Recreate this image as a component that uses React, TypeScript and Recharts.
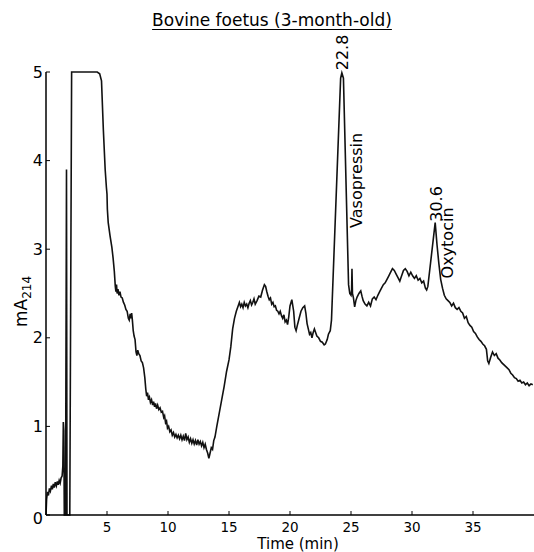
import { LineChart, Line, XAxis, YAxis, ReferenceDot, Label } from 'recharts';

// chromatogram trace: [time (min), mA214]
const trace: [number, number][] = [
  [0, 0], [0.05, 0.18], [0.12, 0.26], [0.2, 0.22], [0.28, 0.3], [0.36, 0.27], [0.45, 0.33],
  [0.52, 0.29], [0.6, 0.35], [0.68, 0.31], [0.76, 0.37], [0.85, 0.33], [0.93, 0.38], [1.0, 0.34],
  [1.08, 0.39], [1.16, 0.36], [1.24, 0.42], [1.32, 0.44], [1.38, 0.55], [1.42, 1.05], [1.46, 0.95],
  [1.5, 0], [1.6, 0], [1.68, 3.9], [1.72, 0], [1.95, 0], [2.1, 5],
  [4.2, 5], [4.4, 4.98], [4.55, 4.9], [4.7, 4.35], [4.85, 3.9], [4.95, 3.7], [5.0, 3.62],
  [5.03, 3.45], [5.1, 3.3], [5.25, 3.15], [5.4, 3.02], [5.5, 2.9], [5.6, 2.75], [5.68, 2.58],
  [5.73, 2.52], [5.78, 2.6], [5.83, 2.5], [5.9, 2.55], [5.98, 2.48], [6.06, 2.52], [6.15, 2.46],
  [6.25, 2.45], [6.35, 2.4], [6.45, 2.37], [6.55, 2.32], [6.65, 2.3], [6.75, 2.22], [6.82, 2.2],
  [6.9, 2.27], [6.96, 2.22], [7.02, 2.28], [7.08, 2.2], [7.15, 2.08], [7.22, 2.02], [7.3, 1.98],
  [7.38, 1.84], [7.45, 1.8], [7.52, 1.86], [7.6, 1.82], [7.7, 1.8], [7.8, 1.74], [7.9, 1.72],
  [8.0, 1.66], [8.1, 1.55], [8.18, 1.42], [8.25, 1.34], [8.32, 1.38], [8.4, 1.3], [8.48, 1.33],
  [8.56, 1.27], [8.65, 1.3], [8.74, 1.24], [8.82, 1.28], [8.9, 1.22], [8.98, 1.26], [9.06, 1.2],
  [9.15, 1.24], [9.25, 1.19], [9.35, 1.21], [9.45, 1.16], [9.55, 1.17], [9.65, 1.1], [9.72, 1.12],
  [9.8, 1.04], [9.88, 1.06], [9.96, 0.98], [10.05, 1.0], [10.15, 0.94], [10.25, 0.96], [10.35, 0.9],
  [10.45, 0.93], [10.55, 0.88], [10.65, 0.91], [10.75, 0.87], [10.85, 0.9], [10.95, 0.86],
  [11.05, 0.9], [11.15, 0.85], [11.25, 0.89], [11.35, 0.84], [11.45, 0.92], [11.55, 0.85],
  [11.65, 0.88], [11.75, 0.82], [11.85, 0.86], [11.95, 0.81], [12.05, 0.85], [12.15, 0.8],
  [12.25, 0.84], [12.35, 0.79], [12.45, 0.85], [12.55, 0.8], [12.65, 0.83], [12.75, 0.78],
  [12.85, 0.82], [12.95, 0.76], [13.05, 0.8], [13.15, 0.74], [13.25, 0.7], [13.35, 0.64],
  [13.45, 0.7], [13.55, 0.76], [13.65, 0.74], [13.75, 0.84], [13.85, 0.88], [14.0, 1.0],
  [14.2, 1.15], [14.4, 1.3], [14.6, 1.45], [14.8, 1.62], [15.0, 1.75], [15.15, 1.9], [15.3, 2.1],
  [15.45, 2.22], [15.6, 2.3], [15.75, 2.36], [15.85, 2.4], [15.95, 2.35], [16.05, 2.38],
  [16.15, 2.34], [16.25, 2.4], [16.35, 2.36], [16.45, 2.38], [16.55, 2.34], [16.65, 2.39],
  [16.75, 2.42], [16.85, 2.37], [16.95, 2.4], [17.05, 2.44], [17.15, 2.38], [17.3, 2.42],
  [17.45, 2.47], [17.6, 2.46], [17.75, 2.54], [17.9, 2.6], [18.0, 2.58], [18.1, 2.52],
  [18.2, 2.47], [18.3, 2.43], [18.4, 2.45], [18.5, 2.38], [18.6, 2.4], [18.7, 2.35], [18.8, 2.36],
  [18.9, 2.31], [19.0, 2.3], [19.1, 2.27], [19.2, 2.3], [19.3, 2.25], [19.4, 2.22], [19.5, 2.26],
  [19.6, 2.18], [19.7, 2.2], [19.8, 2.15], [19.9, 2.24], [20.0, 2.36], [20.15, 2.43],
  [20.3, 2.3], [20.4, 2.12], [20.5, 2.08], [20.6, 2.14], [20.75, 2.22], [20.9, 2.3], [21.05, 2.34],
  [21.2, 2.36], [21.3, 2.28], [21.4, 2.16], [21.5, 2.1], [21.6, 2.04], [21.7, 2.06], [21.8, 2.0],
  [21.9, 2.06], [22.0, 2.1], [22.1, 2.06], [22.2, 2.02], [22.35, 2.0], [22.5, 1.96],
  [22.65, 1.95], [22.8, 1.92], [22.9, 1.93], [23.05, 1.98], [23.15, 2.04], [23.3, 2.08],
  [23.4, 2.2], [24.15, 4.93], [24.25, 4.99], [24.38, 4.93], [24.8, 2.6], [24.9, 2.5],
  [25.0, 2.48], [25.05, 2.54], [25.08, 2.78], [25.12, 2.5], [25.2, 2.45], [25.3, 2.35],
  [25.4, 2.42], [25.5, 2.46], [25.65, 2.5], [25.8, 2.53], [25.9, 2.47], [26.0, 2.42],
  [26.15, 2.38], [26.3, 2.36], [26.45, 2.4], [26.6, 2.36], [26.75, 2.44], [26.9, 2.46],
  [27.05, 2.43], [27.2, 2.48], [27.35, 2.52], [27.5, 2.56], [27.65, 2.6], [27.8, 2.62],
  [27.95, 2.66], [28.1, 2.7], [28.25, 2.74], [28.4, 2.78], [28.55, 2.76], [28.7, 2.72],
  [28.85, 2.68], [29.0, 2.64], [29.1, 2.68], [29.2, 2.72], [29.3, 2.76], [29.45, 2.78],
  [29.6, 2.75], [29.75, 2.7], [29.9, 2.74], [30.05, 2.7], [30.2, 2.67], [30.35, 2.7],
  [30.5, 2.65], [30.65, 2.67], [30.8, 2.62], [30.95, 2.64], [31.1, 2.56], [31.2, 2.54],
  [31.3, 2.58], [31.9, 3.3], [32.05, 3.05], [32.2, 2.84], [32.35, 2.66], [32.5, 2.56],
  [32.65, 2.48], [32.8, 2.44], [32.95, 2.42], [33.1, 2.4], [33.25, 2.36], [33.4, 2.39],
  [33.55, 2.34], [33.7, 2.32], [33.85, 2.34], [34.0, 2.3], [34.15, 2.28], [34.3, 2.22],
  [34.45, 2.24], [34.6, 2.17], [34.75, 2.14], [34.9, 2.12], [35.05, 2.07], [35.2, 2.05],
  [35.35, 2.01], [35.5, 1.98], [35.65, 1.96], [35.8, 1.93], [35.95, 1.91], [36.1, 1.87],
  [36.2, 1.74], [36.3, 1.71], [36.45, 1.78], [36.6, 1.84], [36.75, 1.8], [36.9, 1.82],
  [37.05, 1.77], [37.2, 1.75], [37.35, 1.72], [37.5, 1.7], [37.65, 1.68], [37.8, 1.66],
  [37.95, 1.64], [38.1, 1.6], [38.25, 1.58], [38.4, 1.55], [38.55, 1.54], [38.7, 1.51],
  [38.85, 1.52], [39.0, 1.49], [39.15, 1.5], [39.3, 1.47], [39.45, 1.49], [39.6, 1.46],
  [39.75, 1.48], [39.9, 1.47],
];

const xTicks = [5, 10, 15, 20, 25, 30, 35];
const yTicks = [0, 1, 2, 3, 4, 5];

// peak annotations: text, and the data point where the rotated text starts
const peakText = ['22.8', 'Vasopressin', '30.6', 'Oxytocin'];
const peakTime = [24.75, 25.9, 32.45, 33.35];
const peakLevel = [5.02, 3.24, 3.31, 2.67];

const data = trace.map(([t, a]) => ({ t, a }));
const annotations = peakText.map((text, i) => ({ text, t: peakTime[i], a: peakLevel[i] }));

const FONT = 'DejaVu Sans';

function YTick({ x, y, payload }: any) {
  return (
    <text x={x - 7} y={y} dy={payload.value === 0 ? 9 : 5.5} textAnchor="end" fontSize={16} fill="#000">
      {payload.value}
    </text>
  );
}

function XTick({ x, y, payload }: any) {
  return (
    <text x={x} y={y} dy={20.5} textAnchor="middle" fontSize={13.5} fill="#000">
      {payload.value}
    </text>
  );
}

function YTitle({ viewBox }: any) {
  const cx = viewBox.x + 27;
  const cy = viewBox.y + viewBox.height / 2 + 8;
  return (
    <text x={cx} y={cy} transform={`rotate(-90 ${cx} ${cy})`} textAnchor="middle" fontSize={17} fill="#000">
      mA<tspan fontSize={12} dy={4}>214</tspan>
    </text>
  );
}

function rotatedLabel(text: string) {
  return ({ viewBox }: any) => {
    const { x, y } = viewBox;
    return (
      <text x={x} y={y} transform={`rotate(-90 ${x} ${y})`} textAnchor="start" fontSize={16} fill="#000">
        {text}
      </text>
    );
  };
}

export default function App() {
  return (
    <div style={{ position: 'absolute', left: 0, top: 0, width: 534, height: 552, background: '#fff', fontFamily: FONT }}>
      <div
        style={{
          position: 'absolute',
          top: 10,
          left: 0,
          width: 544,
          textAlign: 'center',
          fontSize: 17,
          lineHeight: '20px',
          textDecoration: 'underline',
          textUnderlineOffset: 3,
          color: '#000',
        }}
      >
        Bovine foetus (3-month-old)
      </div>
      <LineChart width={534} height={552} data={data} margin={{ top: 72, right: 0, bottom: 0, left: 0 }}>
        <XAxis
          dataKey="t"
          type="number"
          domain={[0, 40]}
          ticks={xTicks}
          height={37}
          tickSize={-4}
          tickMargin={0}
          tick={<XTick />}
          axisLine={{ stroke: '#000', strokeWidth: 1.5 }}
          tickLine={{ stroke: '#000', strokeWidth: 1 }}
        >
          <Label value="Time (min)" position="insideBottom" offset={3.5} dx={8} style={{ fontSize: 15, fill: '#000' }} />
        </XAxis>
        <YAxis
          type="number"
          domain={[0, 5]}
          ticks={yTicks}
          width={46}
          tickSize={-4}
          tickMargin={0}
          tick={<YTick />}
          axisLine={{ stroke: '#000', strokeWidth: 1.5 }}
          tickLine={{ stroke: '#000', strokeWidth: 1 }}
        >
          <Label content={<YTitle />} />
        </YAxis>
        <Line
          type="linear"
          dataKey="a"
          stroke="#111"
          strokeWidth={1.6}
          dot={false}
          isAnimationActive={false}
        />
        {annotations.map((p) => (
          <ReferenceDot
            key={p.text}
            x={p.t}
            y={p.a}
            r={0}
            fill="none"
            stroke="none"
            ifOverflow="visible"
            label={rotatedLabel(p.text)}
          />
        ))}
      </LineChart>
    </div>
  );
}
